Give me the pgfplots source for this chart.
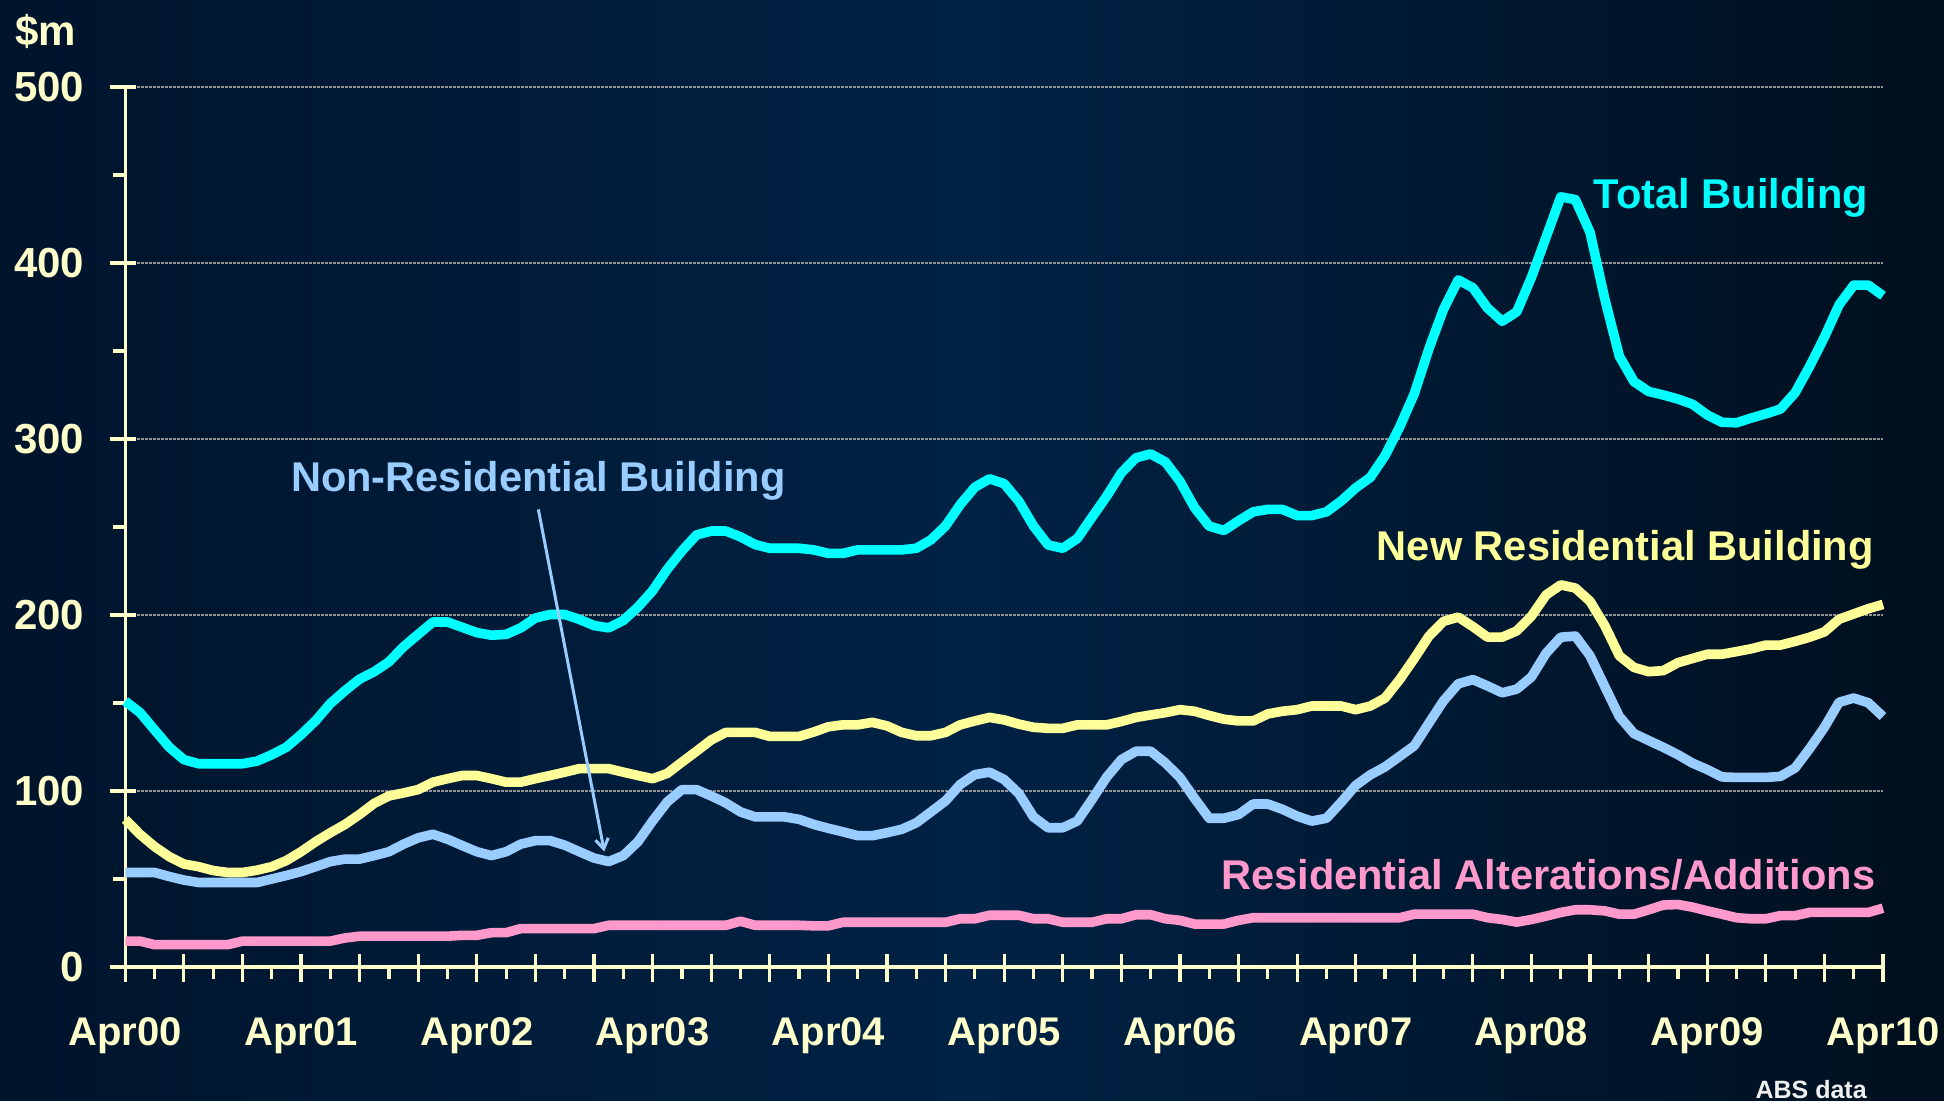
\documentclass[border=0pt]{standalone}
\usepackage{pgfplots}
\pgfplotsset{compat=1.18}
\usepackage{pgfplotstable}
\usepackage{fontspec}
\setmainfont{Liberation Sans}
\usetikzlibrary{arrows.meta}
\definecolor{bgL}{HTML}{00142B}
\definecolor{bgM}{HTML}{002245}
\definecolor{bgR}{HTML}{000F1E}
\definecolor{axiscol}{HTML}{FFFFCC}
\definecolor{totc}{HTML}{00FFFF}
\definecolor{newc}{HTML}{FFFF99}
\definecolor{nonc}{HTML}{99CCFF}
\definecolor{altc}{HTML}{FF99CC}
\pgfplotstableread{
m tot newr nonr alt
0 151 83.9 53.7 14.7
1 144.6 75.4 53.7 14.7
2 134.7 68.4 53.7 12.7
3 124.9 62.7 51.4 12.7
4 117.8 58.5 49.4 12.7
5 115.5 57 48 12.7
6 115.5 54.8 48 12.7
7 115.5 53.7 48 12.7
8 115.5 53.7 48 14.7
9 117 55 48 14.7
10 120.6 57 50 14.7
11 124.9 60.5 52 14.7
12 132 65.5 54.2 14.7
13 140 71.2 57 14.7
14 149.7 76.3 59.9 14.7
15 157 81 61.3 16.5
16 163.6 86.7 61.3 17.5
17 167.8 93 63.3 17.5
18 173.4 97.2 65.5 17.5
19 182 98.9 69.8 17.5
20 189 100.8 73.4 17.5
21 196 105 75.4 17.5
22 196 107 72.6 17.5
23 193 108.8 69 18
24 190 108.8 65.5 18
25 188.5 107 63.3 19.5
26 189 105 65.5 19.5
27 192.7 105 69.8 21.8
28 198.3 107 71.8 21.8
29 200.3 108.8 71.8 21.8
30 200.3 110.7 69.2 21.8
31 197.5 112.7 65.5 21.8
32 194 112.7 61.9 21.8
33 192.7 112.7 59.9 23.7
34 196.9 110.7 63.3 23.7
35 204.5 108.8 71.2 23.7
36 213.8 107 83 23.7
37 226 110 93.8 23.7
38 236.4 116.4 100.8 23.7
39 245.5 122.6 100.8 23.7
40 247.7 129 97.2 23.7
41 247.7 133.3 93.2 23.7
42 244.4 133.3 88.1 26
43 240 133.3 85.3 23.7
44 237.9 131 85.3 23.7
45 237.9 131 85.3 23.7
46 237.9 131 83.9 23.7
47 237 133.5 81 23.4
48 235 136.5 78.8 23.4
49 235 137.6 76.8 25.4
50 237 137.6 74.6 25.4
51 237 139 74.6 25.4
52 237 137 76.3 25.4
53 237 133.3 78.2 25.4
54 237.9 131.4 81.9 25.4
55 242.7 131.4 88.1 25.4
56 250.6 133.3 94.4 25.4
57 262.7 137.6 103.7 27.4
58 272.6 139.8 109.3 27.4
59 277.4 141.8 110.7 29.4
60 274.6 140.4 106.5 29.4
61 264.7 138 98.6 29.4
62 250.6 136.2 85.3 27.4
63 239.8 135.6 79.1 27.4
64 237.9 135.6 79.1 25.4
65 243.5 137.6 83 25.4
66 255.6 137.6 95.2 25.4
67 267.5 137.6 107.9 27.4
68 280.8 139.5 117.8 27.4
69 289.3 141.8 122.6 29.7
70 291.5 143.2 122.6 29.7
71 287 144.5 116 27.4
72 276 146.2 107.7 26.5
73 261 145.3 95.8 24.4
74 250.5 142.9 84.5 24.4
75 248 140.8 84.5 24.4
76 253.5 139.8 86.6 26.5
77 258.6 139.8 92.6 28
78 260 143.8 92.6 28
79 260 145.3 89.6 28
80 256.5 146.2 85.7 28
81 256.5 148.3 82.9 28
82 258.6 148.3 84.5 28
83 264.7 148.3 93.5 28
84 272.2 146.2 103.2 28
85 278.2 148.3 109.2 28
86 290.5 152.8 113.7 28
87 306.8 163.3 119.7 28
88 325.7 175.3 125.7 30
89 351.3 188 138.6 30
90 373.8 196.4 151.3 30
91 390.4 198.8 160.9 30
92 385.9 193.4 163.3 30
93 374.4 187.4 159.7 28
94 366.9 187.4 155.8 27
95 372.3 191 157.9 25.5
96 391.9 199.4 164.8 27
97 414.7 211.4 178.3 28.9
98 437.6 217.1 187.4 31
99 436 215.3 188 32.5
100 417.4 207.8 176.8 32.5
101 379.8 194 159.4 31.9
102 347 176.8 142.3 30
103 332.6 170.2 132.6 30
104 327 167.8 128.7 32.5
105 325 168.4 124.8 35.2
106 322.7 172.9 120.6 35.5
107 319.7 175.3 115.8 34
108 313.7 177.7 112.2 31.9
109 309.5 177.7 108 30
110 309.2 179.2 107.7 28
111 311.9 180.8 107.7 27.4
112 314.3 182.9 107.7 27.4
113 317 182.9 108.3 29.2
114 326.3 185 113.1 29.2
115 341.4 187.4 124.2 31
116 357.9 190.4 136.2 31
117 376.2 197.6 150.4 31
118 387.4 200.6 152.8 31
119 387.4 203.6 150.1 31
120 381.4 206 142.3 33.4
}\data
\begin{document}
\begin{tikzpicture}
\shade[left color=bgL, right color=bgR, middle color=bgM] (-62.65pt,-67pt) rectangle (909.35pt,483.5pt);
\begin{axis}[
  at={(0,0)}, anchor=south west,
  scale only axis, width=878.85pt, height=440pt,
  xmin=0, xmax=120, ymin=0, ymax=500,
  axis x line=bottom, axis y line=left,
  axis line style={-, line width=1.6pt, color=axiscol},
  clip=false,
  xtick={0,4,...,120}, minor x tick num=1,
  ytick={0,100,...,500}, minor y tick num=1,
  tick style={color=axiscol, line width=1.6pt},
  major tick length=7.5pt, minor tick length=6pt,
  tick align=outside,
  extra x ticks={0,4,...,120}, extra x tick labels={},
  extra x tick style={tick align=inside, major tick length=6.5pt, grid=none},
  extra y ticks={0,100,...,500}, extra y tick labels={},
  extra y tick style={tick align=inside, major tick length=5.5pt, grid=none},
  ymajorgrids,
  major grid style={color=gray!85, line width=0.7pt, dash pattern=on 1.2pt off 0.8pt},
  xticklabels={Apr00,{},{},Apr01,{},{},Apr02,{},{},Apr03,{},{},Apr04,{},{},Apr05,{},{},Apr06,{},{},Apr07,{},{},Apr08,{},{},Apr09,{},{},Apr10},
  xticklabel style={font=\fontsize{20}{24}\selectfont\bfseries, text=axiscol, inner sep=0pt, anchor=north, yshift=-17.5pt},
  yticklabel style={font=\fontsize{21}{25}\selectfont\bfseries, text=axiscol, inner sep=0pt, anchor=east, xshift=-12.8pt},
  /pgf/number format/assume math mode=true,
]
\addplot[color=altc, line width=4.8pt, line join=round] table[x=m, y=alt] {\data};
\addplot[color=nonc, line width=4.8pt, line join=round] table[x=m, y=nonr] {\data};
\addplot[color=newc, line width=4.8pt, line join=round] table[x=m, y=newr] {\data};
\addplot[color=totc, line width=4.8pt, line join=round] table[x=m, y=tot] {\data};
\node[anchor=east, text=totc, font=\fontsize{20.8}{24}\selectfont\bfseries, inner sep=0pt] at (axis cs:119,437.2) {Total Building};
\node[anchor=east, text=newc, font=\fontsize{20.8}{24}\selectfont\bfseries, inner sep=0pt] at (axis cs:119.4,237.3) {New Residential Building};
\node[text=nonc, font=\fontsize{20.8}{24}\selectfont\bfseries, inner sep=0pt] at (axis cs:28.2,276.2) {Non-Residential Building};
\node[anchor=east, text=altc, font=\fontsize{20.8}{24}\selectfont\bfseries, inner sep=0pt] at (axis cs:119.5,52.3) {Residential Alterations/Additions};
\draw[color=nonc, line width=1.5pt, -{Straight Barb[length=5pt,width=6.5pt]}] (axis cs:28.2,260) -- (axis cs:32.7,65.6);
\end{axis}
\node[text=axiscol, font=\fontsize{21}{25}\selectfont\bfseries, inner sep=0pt] at (-39.9pt,468pt) {\$m};
\node[text=white!94!black, font=\fontsize{12.5}{15}\selectfont\bfseries, inner sep=0pt] at (842.9pt,-61.5pt) {ABS data};
\pgfresetboundingbox
\path (-62.65pt,-67pt) rectangle (909.35pt,483.5pt);
\end{tikzpicture}
\end{document}
